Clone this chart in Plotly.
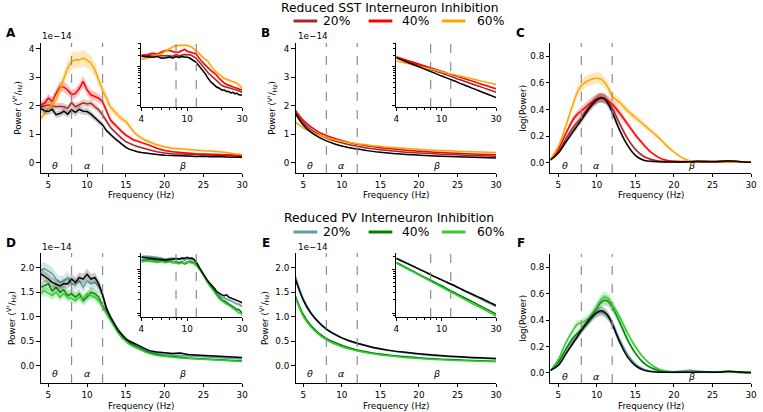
import plotly.graph_objects as go

# ---------------- data (power in units of 1e-14 V^2/Hz) ----------------
LEVELS = ["20%", "40%", "60%"]
BAND_EDGES = [8, 12]
BAND_LABELS = ["θ", "α", "β"]
BAND_LABEL_FREQ = [5.9, 10.0, 22.3]

FREQ_PSD = [4, 4.5, 5, 5.5, 6, 6.5, 7, 7.5, 8, 8.5, 9, 9.5, 10, 10.5, 11, 11.5, 12, 12.5, 13, 13.5,
            14, 14.5, 15, 15.5, 16, 16.5, 17, 17.5, 18, 19, 20, 21, 22, 23, 24, 25, 26, 27, 28, 29, 30]

SST_PSD_CTRL = [1.9, 1.82, 1.79, 1.87, 1.68, 1.72, 1.8, 1.7, 1.85, 1.76, 1.87, 1.8, 1.79, 1.7, 1.57, 1.45, 1.32,
                1.12, 0.98, 0.86, 0.75, 0.64, 0.53, 0.46, 0.41, 0.38, 0.35, 0.33, 0.3, 0.28, 0.25, 0.25, 0.23,
                0.23, 0.21, 0.22, 0.2, 0.21, 0.19, 0.19, 0.18]
SST_PSD_20 = [1.96, 2.0, 2.02, 2.0, 1.96, 1.98, 1.96, 1.9, 2.1, 1.96, 2.02, 2.1, 2.06, 2.08, 1.96, 1.85, 1.67,
              1.44, 1.24, 1.1, 0.96, 0.84, 0.73, 0.66, 0.61, 0.56, 0.53, 0.49, 0.45, 0.38, 0.33, 0.31, 0.3,
              0.29, 0.28, 0.27, 0.26, 0.25, 0.24, 0.23, 0.22]
SST_PSD_40 = [2.02, 2.08, 2.26, 2.14, 2.43, 2.67, 2.65, 2.55, 2.38, 2.43, 2.6, 2.85, 2.55, 2.38, 2.32, 2.26, 2.14,
              1.79, 1.5, 1.35, 1.2, 1.08, 0.96, 0.86, 0.79, 0.75, 0.71, 0.66, 0.61, 0.5, 0.42, 0.38, 0.35,
              0.33, 0.31, 0.3, 0.29, 0.28, 0.27, 0.26, 0.25]
SST_PSD_60 = [1.55, 1.7, 1.9, 2.02, 2.2, 2.55, 2.96, 3.32, 3.55, 3.61, 3.6, 3.67, 3.6, 3.49, 3.26, 2.9, 2.55,
              2.26, 1.96, 1.8, 1.67, 1.52, 1.45, 1.25, 1.08, 0.95, 0.85, 0.78, 0.73, 0.62, 0.55, 0.5, 0.48,
              0.45, 0.43, 0.41, 0.4, 0.38, 0.35, 0.31, 0.28]

PV_PSD_CTRL = [1.88, 1.83, 1.77, 1.7, 1.67, 1.63, 1.68, 1.67, 1.77, 1.7, 1.8, 1.77, 1.87, 1.77, 1.8, 1.67, 1.45,
               1.17, 1.0, 0.86, 0.73, 0.64, 0.55, 0.5, 0.46, 0.42, 0.39, 0.35, 0.31, 0.28, 0.26, 0.25, 0.26,
               0.23, 0.22, 0.21, 0.2, 0.2, 0.19, 0.18, 0.17]
PV_PSD_20 = [1.95, 1.98, 1.93, 1.88, 1.77, 1.7, 1.73, 1.8, 1.67, 1.67, 1.73, 1.6, 1.73, 1.67, 1.7, 1.62, 1.45,
             1.15, 0.97, 0.83, 0.71, 0.61, 0.52, 0.46, 0.42, 0.38, 0.35, 0.31, 0.28, 0.25, 0.23, 0.22, 0.21,
             0.2, 0.19, 0.18, 0.17, 0.16, 0.16, 0.15, 0.14]
PV_PSD_40 = [1.6, 1.63, 1.67, 1.53, 1.6, 1.5, 1.55, 1.43, 1.47, 1.4, 1.47, 1.33, 1.4, 1.5, 1.47, 1.4, 1.23,
             1.1, 0.97, 0.83, 0.7, 0.6, 0.52, 0.46, 0.42, 0.37, 0.34, 0.3, 0.27, 0.23, 0.2, 0.19, 0.17,
             0.16, 0.15, 0.14, 0.13, 0.12, 0.12, 0.11, 0.1]
PV_PSD_60 = [1.47, 1.53, 1.48, 1.43, 1.5, 1.4, 1.47, 1.4, 1.37, 1.33, 1.4, 1.37, 1.47, 1.43, 1.4, 1.33, 1.2,
             1.07, 0.93, 0.8, 0.67, 0.57, 0.49, 0.43, 0.39, 0.35, 0.32, 0.28, 0.25, 0.21, 0.19, 0.17, 0.16,
             0.15, 0.14, 0.13, 0.12, 0.11, 0.1, 0.1, 0.09]

FREQ_FIT = [4, 5, 6, 7, 8, 9, 10, 11, 12, 13, 14, 15, 16, 18, 20, 22, 24, 26, 28, 30]
SST_FIT_CTRL = [1.72, 1.32, 1.07, 0.89, 0.76, 0.66, 0.58, 0.52, 0.47, 0.43, 0.39, 0.36, 0.335, 0.29, 0.258,
                0.23, 0.208, 0.189, 0.173, 0.16]
SST_FIT_20 = [1.76, 1.40, 1.16, 0.99, 0.86, 0.76, 0.69, 0.62, 0.57, 0.52, 0.48, 0.45, 0.42, 0.37, 0.336,
              0.304, 0.278, 0.256, 0.237, 0.221]
SST_FIT_40 = [1.83, 1.48, 1.25, 1.07, 0.95, 0.85, 0.77, 0.70, 0.64, 0.60, 0.56, 0.52, 0.49, 0.44, 0.397,
              0.362, 0.334, 0.309, 0.288, 0.27]
SST_FIT_60 = [1.42, 1.22, 1.07, 0.96, 0.88, 0.81, 0.75, 0.70, 0.66, 0.63, 0.59, 0.57, 0.54, 0.50, 0.464,
              0.434, 0.409, 0.387, 0.367, 0.35]
PV_FIT_CTRL = [1.76, 1.34, 1.07, 0.89, 0.75, 0.65, 0.57, 0.51, 0.46, 0.42, 0.38, 0.35, 0.32, 0.28, 0.246,
               0.22, 0.197, 0.178, 0.163, 0.15]
PV_FIT_20 = [1.82, 1.37, 1.09, 0.89, 0.75, 0.65, 0.57, 0.50, 0.45, 0.41, 0.37, 0.34, 0.31, 0.27, 0.235,
             0.208, 0.186, 0.168, 0.153, 0.14]
PV_FIT_40 = [1.42, 1.05, 0.82, 0.67, 0.56, 0.48, 0.42, 0.365, 0.325, 0.292, 0.264, 0.241, 0.221, 0.189,
             0.164, 0.144, 0.128, 0.115, 0.104, 0.095]
PV_FIT_60 = [1.38, 1.01, 0.79, 0.64, 0.53, 0.45, 0.39, 0.34, 0.302, 0.27, 0.244, 0.222, 0.203, 0.172,
             0.149, 0.131, 0.116, 0.104, 0.094, 0.085]

FREQ_PER = [4, 5, 6, 7, 7.5, 8, 9, 10, 10.5, 11, 11.5, 12, 13, 14, 15, 16, 17, 18, 19, 20, 21, 22, 23, 24,
            25, 26, 27, 28, 29, 30]
SST_PER_CTRL = [0.02, 0.07, 0.155, 0.24, 0.28, 0.32, 0.405, 0.47, 0.485, 0.48, 0.44, 0.38, 0.24, 0.13, 0.055,
                0.02, 0.01, 0.006, 0.005, 0.005, 0.005, 0.006, 0.008, 0.007, 0.006, 0.008, 0.012, 0.01,
                0.005, 0.003]
SST_PER_20 = [0.02, 0.08, 0.18, 0.27, 0.305, 0.34, 0.42, 0.48, 0.49, 0.485, 0.455, 0.41, 0.29, 0.18, 0.1,
              0.05, 0.025, 0.012, 0.008, 0.008, 0.008, 0.01, 0.012, 0.012, 0.01, 0.012, 0.012, 0.01,
              0.006, 0.004]
SST_PER_40 = [0.025, 0.1, 0.22, 0.33, 0.365, 0.39, 0.44, 0.48, 0.49, 0.48, 0.465, 0.44, 0.37, 0.29, 0.21,
              0.14, 0.08, 0.04, 0.018, 0.01, 0.007, 0.006, 0.006, 0.006, 0.005, 0.005, 0.005, 0.005,
              0.004, 0.003]
SST_PER_60 = [0.025, 0.12, 0.28, 0.455, 0.53, 0.58, 0.62, 0.635, 0.63, 0.605, 0.56, 0.5, 0.45, 0.39, 0.34,
              0.29, 0.24, 0.19, 0.13, 0.08, 0.04, 0.015, 0.006, 0.004, 0.004, 0.004, 0.004, 0.004,
              0.003, 0.003]
PV_PER_CTRL = [0.02, 0.056, 0.145, 0.233, 0.275, 0.32, 0.4, 0.457, 0.47, 0.46, 0.43, 0.37, 0.23, 0.12,
               0.056, 0.023, 0.01, 0.006, 0.005, 0.005, 0.005, 0.006, 0.006, 0.007, 0.006, 0.008, 0.012,
               0.01, 0.005, 0.003]
PV_PER_20 = [0.02, 0.06, 0.15, 0.24, 0.28, 0.32, 0.39, 0.45, 0.46, 0.45, 0.42, 0.38, 0.25, 0.14, 0.07, 0.03,
             0.015, 0.01, 0.01, 0.01, 0.015, 0.02, 0.015, 0.01, 0.01, 0.01, 0.01, 0.008, 0.005, 0.003]
PV_PER_40 = [0.02, 0.08, 0.18, 0.27, 0.3, 0.33, 0.4, 0.49, 0.53, 0.55, 0.54, 0.5, 0.38, 0.25, 0.15, 0.08,
             0.04, 0.02, 0.01, 0.006, 0.005, 0.005, 0.005, 0.005, 0.005, 0.005, 0.005, 0.005, 0.004, 0.003]
PV_PER_60 = [0.02, 0.1, 0.23, 0.33, 0.37, 0.38, 0.42, 0.5, 0.55, 0.575, 0.56, 0.52, 0.42, 0.3, 0.2, 0.12,
             0.065, 0.03, 0.015, 0.008, 0.006, 0.006, 0.006, 0.006, 0.006, 0.006, 0.005, 0.005, 0.004, 0.003]

# relative half-widths of the shaded error bands
SEM_PSD_SST = [0.06, 0.07, 0.08, 0.07]
SEM_PSD_PV = [0.07, 0.07, 0.06, 0.06]
SEM_FIT = 0.03
SEM_PER = 0.06

# ---------------- styling ----------------
CTRL = "#000000"
SST_COLORS = ["#a52a2a", "#ff0000", "#ffa500"]
PV_COLORS = ["#5f9ea0", "#008000", "#32cd32"]
FONT = "DejaVu Sans"
W, H = 763, 412
TICK_FS = 8.8


def dx(p):
    return p / W


def dy(p):
    return 1 - p / H


def rgba(hexc, a):
    hexc = hexc.lstrip("#")
    r, g, b = int(hexc[0:2], 16), int(hexc[2:4], 16), int(hexc[4:6], 16)
    return f"rgba({r},{g},{b},{a})"


fig = go.Figure()


def add_series(xs, ys, frac, color, n, shape, absw=0.0, alpha=0.25):
    xa, ya = f"x{n}", f"y{n}"
    up = [v * (1 + frac) + absw for v in ys]
    lo = [v * (1 - frac) - absw for v in ys]
    fig.add_trace(go.Scatter(x=xs, y=up, mode="lines", line=dict(width=0, color=color, shape=shape),
                             xaxis=xa, yaxis=ya, showlegend=False, hoverinfo="skip"))
    fig.add_trace(go.Scatter(x=xs, y=lo, mode="lines", line=dict(width=0, color=color, shape=shape),
                             fill="tonexty", fillcolor=rgba(color, alpha),
                             xaxis=xa, yaxis=ya, showlegend=False, hoverinfo="skip"))
    fig.add_trace(go.Scatter(x=xs, y=ys, mode="lines", line=dict(color=color, width=1.5, shape=shape),
                             xaxis=xa, yaxis=ya, showlegend=False))


# axis numbering: 1 A, 2 B, 3 C, 4 D, 5 E, 6 F, 7 A-inset, 8 B-inset, 9 D-inset, 10 E-inset
groups = [
    (FREQ_PSD, [SST_PSD_20, SST_PSD_40, SST_PSD_60, SST_PSD_CTRL], SST_COLORS + [CTRL], SEM_PSD_SST, 1, 7, "linear", 0.0),
    (FREQ_FIT, [SST_FIT_20, SST_FIT_40, SST_FIT_60, SST_FIT_CTRL], SST_COLORS + [CTRL], [SEM_FIT] * 4, 2, 8, "spline", 0.0),
    (FREQ_PER, [SST_PER_20, SST_PER_40, SST_PER_60, SST_PER_CTRL], SST_COLORS + [CTRL], [SEM_PER] * 4, 3, None, "spline", 0.006),
    (FREQ_PSD, [PV_PSD_20, PV_PSD_40, PV_PSD_60, PV_PSD_CTRL], PV_COLORS + [CTRL], SEM_PSD_PV, 4, 9, "linear", 0.0),
    (FREQ_FIT, [PV_FIT_20, PV_FIT_40, PV_FIT_60, PV_FIT_CTRL], PV_COLORS + [CTRL], [SEM_FIT] * 4, 5, 10, "spline", 0.0),
    (FREQ_PER, [PV_PER_20, PV_PER_40, PV_PER_60, PV_PER_CTRL], PV_COLORS + [CTRL], [SEM_PER] * 4, 6, None, "spline", 0.006),
]

for xs, series, cols, sems, main_n, inset_n, shape, absw in groups:
    for ys, c, s in zip(series, cols, sems):
        add_series(xs, ys, s, c, main_n, shape, absw, alpha=0.2 if c == CTRL else 0.25)
    if inset_n:
        for ys, c, s in zip(series, cols, sems):
            add_series(xs, ys, s, c, inset_n, shape, 0.0, alpha=0.2 if c == CTRL else 0.25)

# ---------------- axes ----------------
MAIN_GEOM = {
    1: ((38, 242), (43, 173), [-0.37, 4.2], [0, 1, 2, 3, 4], None),
    2: ((296, 499), (43, 173), [-0.37, 4.2], [0, 1, 2, 3, 4], None),
    3: ((554, 757), (43, 173), [-0.078, 0.9], [0, 0.2, 0.4, 0.6, 0.8], ".1f"),
    4: ((38, 242), (253, 383), [-0.35, 2.3], [0, 0.5, 1, 1.5, 2], ".1f"),
    5: ((296, 499), (253, 383), [-0.35, 2.3], [0, 0.5, 1, 1.5, 2], ".1f"),
    6: ((554, 757), (254, 383), [-0.076, 0.9], [0, 0.2, 0.4, 0.6, 0.8], ".1f"),
}
INSET_GEOM = {
    7: ((140, 242), (43, 107), [-1.04, 0.62], [0.2, 0.3, 0.4, 0.5, 0.6, 0.7, 0.8, 0.9, 2, 3, 4]),
    8: ((398, 499), (43, 107), [-1.04, 0.62], [0.2, 0.3, 0.4, 0.5, 0.6, 0.7, 0.8, 0.9, 2, 3, 4]),
    9: ((140, 242), (253, 317), [-1.09, 0.37], [0.09, 0.2, 0.3, 0.4, 0.5, 0.6, 0.7, 0.8, 0.9, 2]),
    10: ((398, 499), (253, 317), [-1.09, 0.37], [0.09, 0.2, 0.3, 0.4, 0.5, 0.6, 0.7, 0.8, 0.9, 2]),
}

common = dict(showline=True, linecolor="black", linewidth=0.8, ticks="outside", ticklen=3.5,
              tickwidth=0.8, tickcolor="black", showgrid=False, zeroline=False,
              tickfont=dict(family=FONT, size=TICK_FS, color="black"), mirror=False)

layout_axes = {}
for n, ((x0, x1), (y0, y1), yr, yt, fmt) in MAIN_GEOM.items():
    sx = "" if n == 1 else str(n)
    layout_axes[f"xaxis{sx}"] = dict(common, domain=[dx(x0), dx(x1)], range=[4, 30], anchor=f"y{sx}",
                                     tickvals=[5, 10, 15, 20, 25, 30])
    ya = dict(common, domain=[dy(y1), dy(y0)], range=yr, anchor=f"x{sx}", tickvals=yt)
    if fmt:
        ya["tickformat"] = fmt
    layout_axes[f"yaxis{sx}"] = ya

for n, ((x0, x1), (y0, y1), yr, yminor) in INSET_GEOM.items():
    sx = str(n)
    layout_axes[f"xaxis{sx}"] = dict(common, type="log", domain=[dx(x0), dx(x1)],
                                     range=[0.60206, 1.47712], anchor=f"y{sx}",
                                     tickvals=[4, 10, 30], ticktext=["4", "10", "30"],
                                     minor=dict(ticks="outside", ticklen=2, tickwidth=0.6, tickcolor="black",
                                                tickmode="array", tickvals=[5, 6, 7, 8, 9, 20], showgrid=False))
    layout_axes[f"yaxis{sx}"] = dict(common, type="log", domain=[dy(y1), dy(y0)], range=yr,
                                     anchor=f"x{sx}", tickvals=[0.1, 1], showticklabels=False,
                                     minor=dict(ticks="outside", ticklen=2, tickwidth=0.6, tickcolor="black",
                                                tickmode="array", tickvals=yminor, showgrid=False))

# ---------------- shapes: band edges + legend lines ----------------
shapes = []
for n in list(MAIN_GEOM) + list(INSET_GEOM):
    sx = "" if n == 1 else str(n)
    for e in BAND_EDGES:
        shapes.append(dict(type="line", xref=f"x{sx}", yref=f"y{sx} domain", x0=e, x1=e, y0=0, y1=1,
                           line=dict(color="#8c8c8c", width=1.2, dash="dash"), layer="above"))

annotations = []
LEG_X = [(294, 318, 322), (370, 394, 402), (444, 468, 478)]
for title, ty, ly, cols in [("Reduced SST Interneuron Inhibition", 8, 21, SST_COLORS),
                            ("Reduced PV Interneuron Inhibition", 218, 232, PV_COLORS)]:
    annotations.append(dict(text=title, x=dx(391), y=dy(ty), xref="paper", yref="paper", showarrow=False,
                            xanchor="center", yanchor="middle", font=dict(family=FONT, size=12.3, color="black")))
    for (a, b, t), c, lab in zip(LEG_X, cols, LEVELS):
        shapes.append(dict(type="line", xref="paper", yref="paper", x0=dx(a), x1=dx(b), y0=dy(ly), y1=dy(ly),
                           line=dict(color=c, width=3)))
        annotations.append(dict(text=lab, x=dx(t), y=dy(ly), xref="paper", yref="paper", showarrow=False,
                                xanchor="left", yanchor="middle", font=dict(family=FONT, size=12.3, color="black")))

# panel letters
for lab, x, y in [("A", 8.5, 33), ("B", 266, 33), ("C", 524, 33), ("D", 8.5, 243), ("E", 266, 243), ("F", 524, 243)]:
    annotations.append(dict(text=f"<b>{lab}</b>", x=dx(x), y=dy(y), xref="paper", yref="paper", showarrow=False,
                            xanchor="center", yanchor="middle", font=dict(family=FONT, size=12, color="black")))

# offset labels
for x, y in [(37, 36), (296, 36), (37, 247), (296, 247)]:
    annotations.append(dict(text="1e−14", x=dx(x), y=dy(y), xref="paper", yref="paper", showarrow=False,
                            xanchor="left", yanchor="middle", font=dict(family=FONT, size=TICK_FS, color="black")))

# x titles
for n, ((x0, x1), _, _, _, _) in MAIN_GEOM.items():
    ty = 195 if n <= 3 else 406
    annotations.append(dict(text="Frequency (Hz)", x=dx((x0 + x1) / 2), y=dy(ty), xref="paper", yref="paper",
                            showarrow=False, xanchor="center", yanchor="middle",
                            font=dict(family=FONT, size=TICK_FS, color="black")))

# y titles
POWER = "Power (<sup>V²</sup>/<sub>Hz</sub>)"
for txt, x, y in [(POWER, 14, 108), (POWER, 272, 108), ("log(Power)", 526, 108),
                  (POWER, 8, 318), (POWER, 264, 318), ("log(Power)", 526, 318)]:
    annotations.append(dict(text=txt, x=dx(x), y=dy(y), xref="paper", yref="paper", showarrow=False,
                            textangle=-90, xanchor="center", yanchor="middle",
                            font=dict(family=FONT, size=TICK_FS, color="black")))

# band greek labels
GREEK_Y = {1: -0.1, 2: -0.1, 3: -0.025, 4: -0.15, 5: -0.15, 6: -0.03}
for n, gy in GREEK_Y.items():
    sx = "" if n == 1 else str(n)
    for g, gx in zip(BAND_LABELS, BAND_LABEL_FREQ):
        annotations.append(dict(text=f"<i>{g}</i>", x=gx, y=gy, xref=f"x{sx}", yref=f"y{sx}", showarrow=False,
                                xanchor="center", yanchor="middle",
                                font=dict(family=FONT, size=9.5, color="black")))

fig.update_layout(width=W, height=H, margin=dict(l=0, r=0, t=0, b=0), paper_bgcolor="white",
                  plot_bgcolor="white", showlegend=False, shapes=shapes, annotations=annotations,
                  font=dict(family=FONT, size=TICK_FS, color="black"), **layout_axes)

fig.write_html("out.html", config={"displayModeBar": False},
               post_script="document.body.style.margin='0';document.body.style.padding='0';")
